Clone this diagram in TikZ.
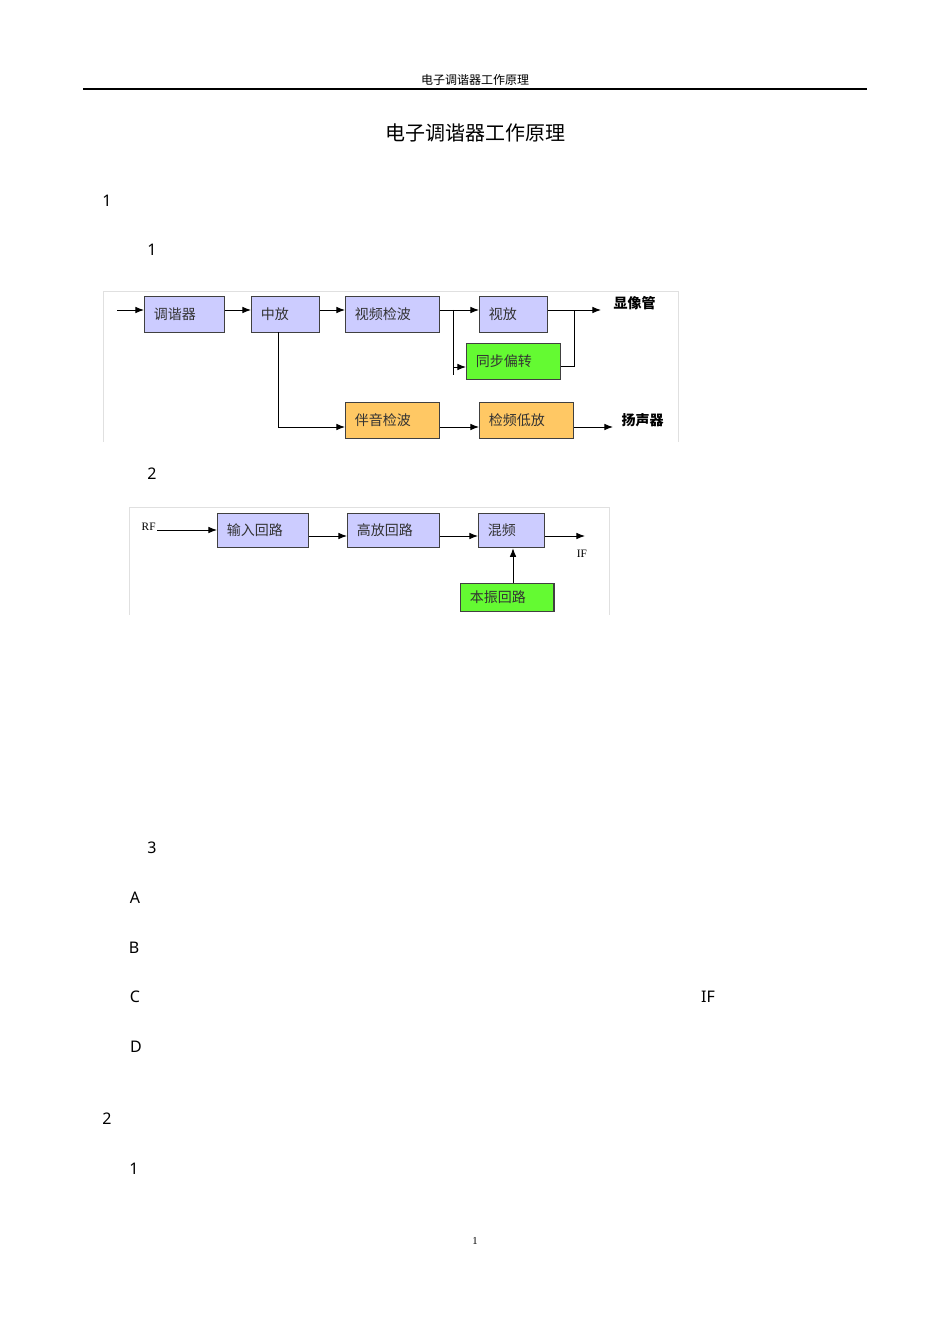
\documentclass[tikz,border=0pt]{standalone}
\usepackage{fontspec}
\usetikzlibrary{arrows.meta}
\setmainfont{Liberation Serif}
\newfontfamily\cjk{Noto Sans CJK SC}
\newfontfamily\sans{Noto Sans}
\begin{document}
\begin{tikzpicture}[x=0.75pt,y=-0.75pt,
  box/.style={draw=black!75,line width=0.9pt,minimum height=27pt,anchor=north west,inner xsep=0pt,inner ysep=0pt,align=left,font=\cjk\fontsize{10.5}{12}\selectfont,text=black!80},
  w/.style={minimum width=#1,text width=#1-14pt},
  blue/.style={box,fill=blue!20},
  green/.style={box,fill={rgb,255:red,100;green,250;blue,50}},
  orange/.style={box,fill={rgb,255:red,255;green,200;blue,100}},
  ar/.style={-{Latex[length=6.5pt,width=5pt]},line width=0.7pt},
  ln/.style={line width=0.7pt},
  num/.style={font=\sans\fontsize{12}{14}\selectfont},
  lab/.style={font=\cjk\bfseries\fontsize{10.5}{12}\selectfont}]
\useasboundingbox (0,0) rectangle (950,1344);
\node[font=\cjk\fontsize{9}{10}\selectfont] (hdr) at (475,80) {电子调谐器工作原理};
\draw[line width=0.8pt] (83,89) -- (867,89);
\node[font=\cjk\fontsize{15}{17}\selectfont] (title) at (475,133) {电子调谐器工作原理};
\node[num] at (107,201) {1};
\node[num] at (152,250) {1};
\node[num] at (152,474) {2};
\node[num] at (152,848) {3};
\node[num] at (135,898) {A};
\node[num] at (134,948) {B};
\node[num] at (135,997) {C};
\node[num] at (708,997) {IF};
\node[num] at (136,1047) {D};
\node[num] at (107,1119) {2};
\node[num] at (134,1169) {1};
\node[font=\fontsize{8}{9}\selectfont] at (475,1241) {1};
% diagram 1
\draw[black!12] (103,442) -- (103,291) -- (678,291) -- (678,442);
\node[blue,w=60pt] (t) at (144,296) {调谐器};
\node[blue,w=51pt] (z) at (251,296) {中放};
\node[blue,w=70.5pt] (v) at (345,296) {视频检波};
\node[blue,w=51pt] (s) at (479,296) {视放};
\node[green,w=70.5pt] (g) at (466,343) {同步偏转};
\node[orange,w=70.5pt] (b) at (345,402) {伴音检波};
\node[orange,w=70.5pt] (d) at (479,402) {检频低放};
\coordinate (in1) at (117,310);
\coordinate (o1) at (601,310);
\coordinate (o2) at (613,427);
\node[lab,anchor=west] (xg) at (609,303) {显像管};
\node[lab,anchor=west] (yq) at (617,420) {扬声器};
\draw[ar] (in1) -- (t.west|-in1);
\draw[ar] (t.east|-in1) -- (z.west|-in1);
\draw[ar] (z.east|-in1) -- (v.west|-in1);
\draw[ar] (v.east|-in1) -- (s.west|-in1);
\draw[ar] (453,310) -- (453,367) -- (g.west|-0,367);
\draw[ln] (453,367) -- (453,375);
\draw[ar] (s.east|-in1) -- (o1);
\draw[ln] (g.east|-0,366) -- (574,366) -- (574,310);
\draw[ar] (278,332) -- (278,427) -- (b.west|-0,427);
\draw[ar] (b.east|-0,427) -- (d.west|-0,427);
\draw[ar] (d.east|-0,427) -- (o2);
% diagram 2
\draw[black!12] (129,615) -- (129,507) -- (609,507) -- (609,615);
\node[blue,w=68pt,minimum height=25.5pt] (i) at (217,513) {输入回路};
\node[blue,w=69pt,minimum height=25.5pt] (h) at (347,513) {高放回路};
\node[blue,w=49.5pt,minimum height=25.5pt] (m) at (478,513) {混频};
\node[green,w=70pt,minimum height=21pt] (lo) at (460,583) {本振回路};
\node[font=\fontsize{8.5}{10}\selectfont,anchor=west] (rf) at (137,527) {RF};
\node[font=\fontsize{8.5}{10}\selectfont] (ifl) at (582,554) {IF};
\coordinate (o3) at (585,536);
\draw[ar] (157,530) -- (i.west|-0,530);
\draw[ar] (i.east|-0,536) -- (h.west|-0,536);
\draw[ar] (h.east|-0,536) -- (m.west|-0,536);
\draw[ar] (m.east|-0,536) -- (o3);
\draw[ar] (lo.north-|513,0) -- (m.south-|513,0);
\end{tikzpicture}
\end{document}
